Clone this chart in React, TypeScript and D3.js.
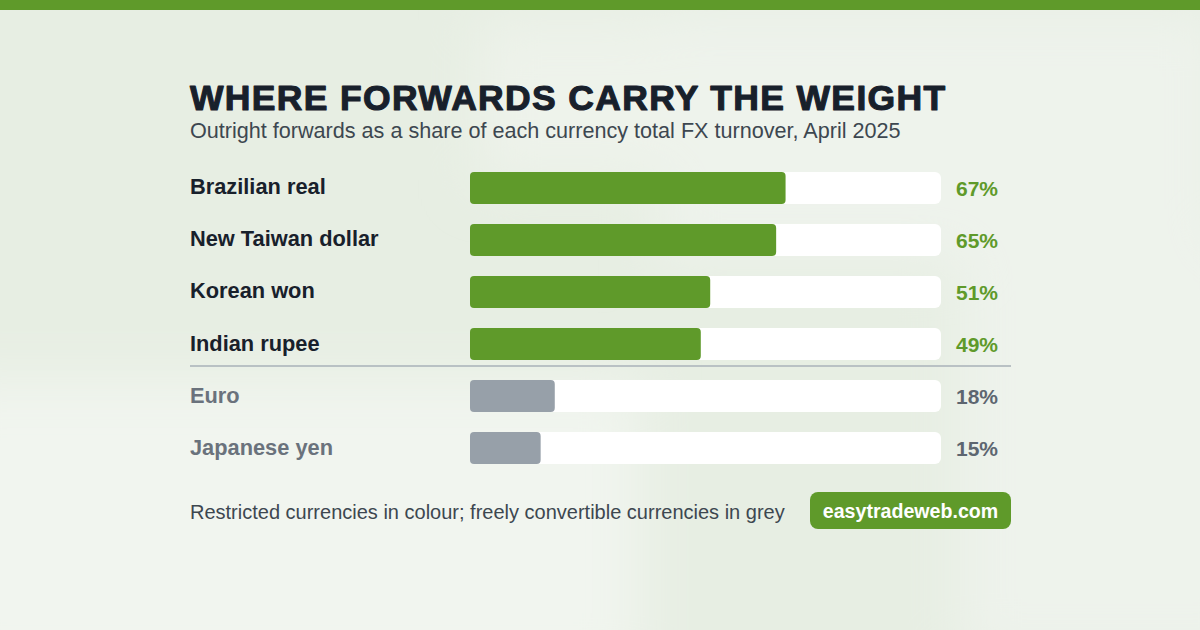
import React from "react";
import * as d3 from "d3";

const categories = ["Brazilian real", "New Taiwan dollar", "Korean won", "Indian rupee", "Euro", "Japanese yen"];
const shares = [67, 65, 51, 49, 18, 15];
const restricted = [true, true, true, true, false, false];
const title = "WHERE FORWARDS CARRY THE WEIGHT";
const subtitle = "Outright forwards as a share of each currency total FX turnover, April 2025";
const note = "Restricted currencies in colour; freely convertible currencies in grey";
const badge = "easytradeweb.com";

const W = 1200;
const H = 630;
const GREEN = "#5f9a2a";
const GREY_BAR = "#97a0a9";
const FONT = "'Liberation Sans', Arial, Helvetica, sans-serif";

export default function App() {
  const x = d3.scaleLinear().domain([0, 100]).range([470, 941]);
  const y = d3.scaleBand<string>().domain(categories).range([162, 474]).paddingInner(0.385).paddingOuter(0.19);
  const bh = y.bandwidth();
  const sepY = 366;

  return (
    <svg width={W} height={H} viewBox={`0 0 ${W} ${H}`} style={{ position: "absolute", left: 0, top: 0, display: "block" }}>
      <defs>
        <filter id="blur" x="-50%" y="-50%" width="200%" height="200%">
          <feGaussianBlur stdDeviation="28" />
        </filter>
      </defs>
      <rect x={0} y={0} width={W} height={H} fill="#e7eee3" />
      <g filter="url(#blur)">
        <rect x={660} y={10} width={560} height={250} fill="#eef3ec" />
        <rect x={480} y={20} width={200} height={160} fill="#eef3eb" />
        <rect x={-60} y={380} width={700} height={300} fill="#f1f5ef" />
        <rect x={960} y={240} width={300} height={420} fill="#eef3ec" />
      </g>
      <rect x={0} y={0} width={W} height={10} fill={GREEN} />

      <text x={190} y={110} fontFamily={FONT} fontWeight={900} fontSize={35.5} letterSpacing={1.33} fill="#18202b" stroke="#18202b" strokeWidth={1.1} strokeLinejoin="round">
        {title}
      </text>
      <text x={190} y={138} fontFamily={FONT} fontSize={21.6} fill="#3d4750">
        {subtitle}
      </text>

      {categories.map((c, i) => {
        const yy = y(c) as number;
        const cy = yy + bh / 2;
        const col = restricted[i] ? GREEN : GREY_BAR;
        return (
          <g key={c}>
            <text x={190} y={cy + 6.5} fontFamily={FONT} fontWeight={700} fontSize={21.8} fill={restricted[i] ? "#18202b" : "#6a727c"}>
              {c}
            </text>
            <rect x={x(0)} y={yy} width={x(100) - x(0)} height={bh} rx={6} fill="#ffffff" />
            <rect x={x(0)} y={yy} width={x(shares[i]) - x(0)} height={bh} rx={4} fill={col} />
            <text x={956} y={cy + 8} fontFamily={FONT} fontWeight={700} fontSize={21} fill={restricted[i] ? GREEN : "#5d6670"}>
              {shares[i]}%
            </text>
          </g>
        );
      })}
      <line x1={190} x2={1011} y1={sepY} y2={sepY} stroke="#b9c1c4" strokeWidth={2} />

      <text x={190} y={519} fontFamily={FONT} fontSize={20} fill="#3d4750">
        {note}
      </text>
      <rect x={810} y={492} width={201} height={37} rx={8} fill={GREEN} />
      <text x={910.5} y={518} textAnchor="middle" fontFamily={FONT} fontWeight={700} fontSize={19.6} fill="#ffffff">
        {badge}
      </text>
    </svg>
  );
}
